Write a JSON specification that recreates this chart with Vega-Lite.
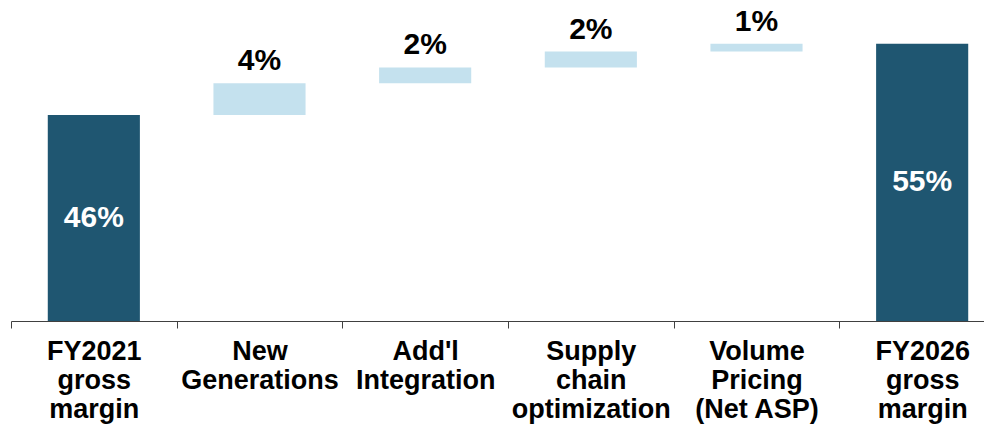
{
  "$schema": "https://vega.github.io/schema/vega-lite/v6.json",
  "width": 994,
  "height": 317,
  "autosize": {"type": "none"},
  "padding": {"left": 11, "top": 4, "right": 0, "bottom": 107},
  "background": "white",
  "config": {
    "view": {"stroke": null},
    "font": "Liberation Sans"
  },
  "data": {
    "values": [
      {"step": "FY2021\ngross\nmargin", "kind": "total", "start": 0, "end": 0.46, "value": 0.46},
      {"step": "New\nGenerations", "kind": "delta", "start": 0.46, "end": 0.50, "value": 0.04},
      {"step": "Add'l\nIntegration", "kind": "delta", "start": 0.50, "end": 0.52, "value": 0.02},
      {"step": "Supply\nchain\noptimization", "kind": "delta", "start": 0.52, "end": 0.54, "value": 0.02},
      {"step": "Volume\nPricing\n(Net ASP)", "kind": "delta", "start": 0.54, "end": 0.55, "value": 0.01},
      {"step": "FY2026\ngross\nmargin", "kind": "total", "start": 0, "end": 0.55, "value": 0.55}
    ]
  },
  "encoding": {
    "x": {
      "field": "step",
      "type": "nominal",
      "sort": null,
      "scale": {"paddingInner": 0, "paddingOuter": 0},
      "axis": {
        "title": null,
        "labelAngle": 0,
        "labelExpr": "split(datum.label, '\\n')",
        "labelFont": "Liberation Sans",
        "labelFontWeight": "bold",
        "labelFontSize": 27,
        "labelLineHeight": 29,
        "labelColor": "#000000",
        "labelPadding": 10,
        "labelBaseline": "top",
        "tickBand": "extent",
        "tickSize": 7,
        "tickColor": "#404040",
        "domainColor": "#404040",
        "ticks": true,
        "grid": false
      }
    }
  },
  "layer": [
    {
      "mark": {"type": "bar", "width": {"band": 0.556}},
      "encoding": {
        "y": {
          "field": "start",
          "type": "quantitative",
          "scale": {"domain": [0.2, 0.6], "zero": false, "clamp": true, "nice": false},
          "axis": null
        },
        "y2": {"field": "end"},
        "color": {
          "field": "kind",
          "type": "nominal",
          "scale": {"domain": ["total", "delta"], "range": ["#1f5671", "#c4e1ee"]},
          "legend": null
        }
      }
    },
    {
      "transform": [{"filter": "datum.kind == 'delta'"}],
      "mark": {"type": "text", "baseline": "bottom", "dy": -7, "fontSize": 30, "fontWeight": "bold", "color": "#000000"},
      "encoding": {
        "y": {"field": "end", "type": "quantitative"},
        "text": {"field": "value", "type": "quantitative", "format": ".0%"}
      }
    },
    {
      "transform": [
        {"filter": "datum.kind == 'total'"},
        {"calculate": "(0.2 + datum.end) / 2", "as": "labelY"}
      ],
      "mark": {"type": "text", "baseline": "middle", "fontSize": 30, "fontWeight": "bold", "color": "#ffffff"},
      "encoding": {
        "y": {"field": "labelY", "type": "quantitative"},
        "text": {"field": "value", "type": "quantitative", "format": ".0%"}
      }
    }
  ]
}
